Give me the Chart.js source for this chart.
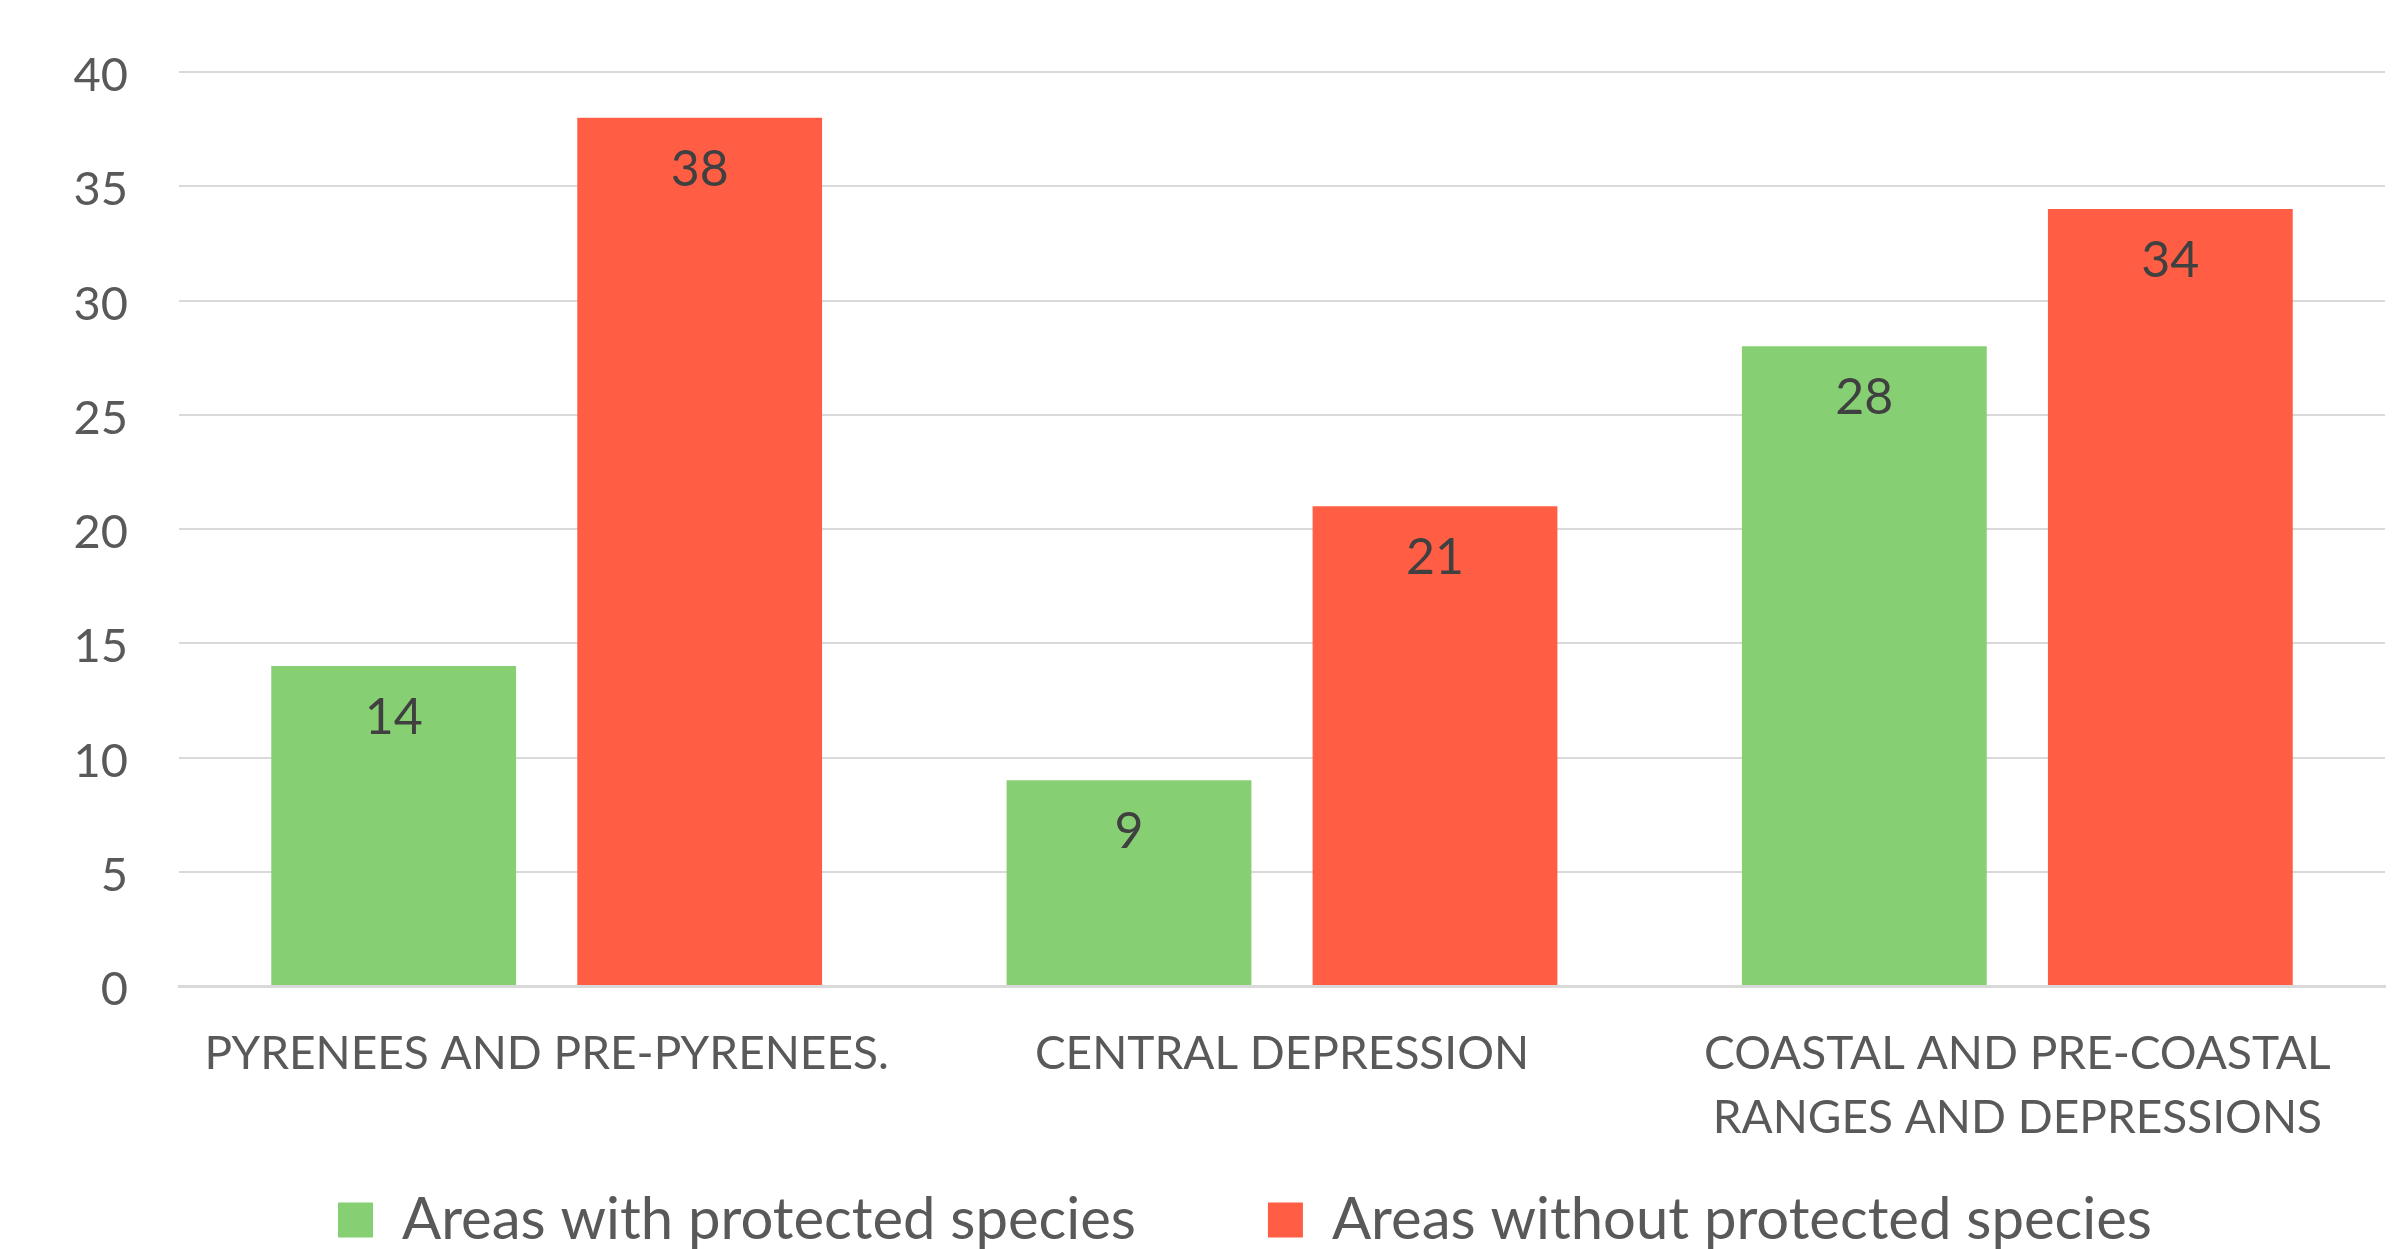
<!DOCTYPE html>
<html>
<head>
<meta charset="utf-8">
<script src="https://cdn.jsdelivr.net/npm/chart.js@4/dist/chart.umd.min.js"></script>
<style>
  html, body { margin: 0; padding: 0; background: #ffffff; }
  #wrap { width: 2397px; height: 1249px; }
</style>
</head>
<body>
<div id="wrap"><canvas id="c" width="2397" height="1249"></canvas></div>
<script>
const categories = [
  'PYRENEES AND PRE-PYRENEES.',
  'CENTRAL DEPRESSION',
  ['COASTAL AND PRE-COASTAL', 'RANGES AND DEPRESSIONS']
];
const seriesNames = ['Areas with protected species', 'Areas without protected species'];
const withProtected = [14, 9, 28];
const withoutProtected = [38, 21, 34];
const yTicks = [0, 5, 10, 15, 20, 25, 30, 35, 40];

const GREEN = '#86D073';
const RED = '#FF5E45';
const FONT = 'Lato';

const valueLabels = {
  id: 'valueLabels',
  afterDatasetsDraw(chart) {
    const ctx = chart.ctx;
    ctx.save();
    ctx.font = '50px ' + FONT;
    ctx.fillStyle = '#404040';
    ctx.textAlign = 'center';
    ctx.textBaseline = 'alphabetic';
    chart.data.datasets.forEach((ds, i) => {
      const meta = chart.getDatasetMeta(i);
      meta.data.forEach((bar, j) => {
        ctx.fillText(String(ds.data[j]), bar.x, bar.y + 68);
      });
    });
    ctx.restore();
  }
};

const legendPlace = {
  id: 'legendPlace',
  afterLayout(chart) {
    const lg = chart.legend;
    if (!lg || !lg.lineWidths) return;
    const pad = lg.options.labels.padding;
    const start = (lg.left + pad + lg.right - lg.lineWidths[0]) / 2;
    const dx = 338 - start;
    lg.left += dx; lg.right += dx;
    const dy = 1191 - (lg.top + pad);
    lg.top += dy; lg.bottom += dy;
  }
};

new Chart(document.getElementById('c'), {
  type: 'bar',
  data: {
    labels: categories,
    datasets: [
      { label: seriesNames[0], data: withProtected, backgroundColor: GREEN, borderWidth: 0 },
      { label: seriesNames[1], data: withoutProtected, backgroundColor: RED, borderWidth: 0 }
    ]
  },
  options: {
    responsive: false,
    devicePixelRatio: 1,
    animation: false,
    datasets: { bar: { categoryPercentage: 0.8323, barPercentage: 0.8 } },
    layout: { padding: { top: 72, right: 12, bottom: -117, left: 0 } },
    plugins: {
      tooltip: { enabled: false },
      legend: {
        position: 'bottom',
        labels: {
          boxWidth: 35,
          boxHeight: 35,
          padding: 132,
          color: '#595959',
          font: { family: FONT, size: 58 }
        }
      }
    },
    scales: {
      x: {
        grid: { display: false, drawTicks: false },
        border: { display: true, color: '#D9D9D9', width: 3 },
        ticks: {
          color: '#595959',
          font: { family: FONT, size: 46, lineHeight: 1.40 },
          padding: 36,
          maxRotation: 0,
          autoSkip: false
        },
        afterFit(scale) { scale.height = 180; }
      },
      y: {
        min: 0,
        max: 40,
        afterBuildTicks(scale) { scale.ticks = yTicks.map(v => ({ value: v })); },
        grid: {
          color: '#D9D9D9',
          lineWidth: 2,
          drawTicks: true,
          tickLength: 51,
          tickColor: 'rgba(0,0,0,0)'
        },
        border: { display: false },
        ticks: {
          color: '#595959',
          font: { family: FONT, size: 47 },
          padding: 0,
          labelOffset: 4
        },
        afterFit(scale) { scale.width = 179; }
      }
    }
  },
  plugins: [valueLabels, legendPlace]
});
</script>
</body>
</html>
